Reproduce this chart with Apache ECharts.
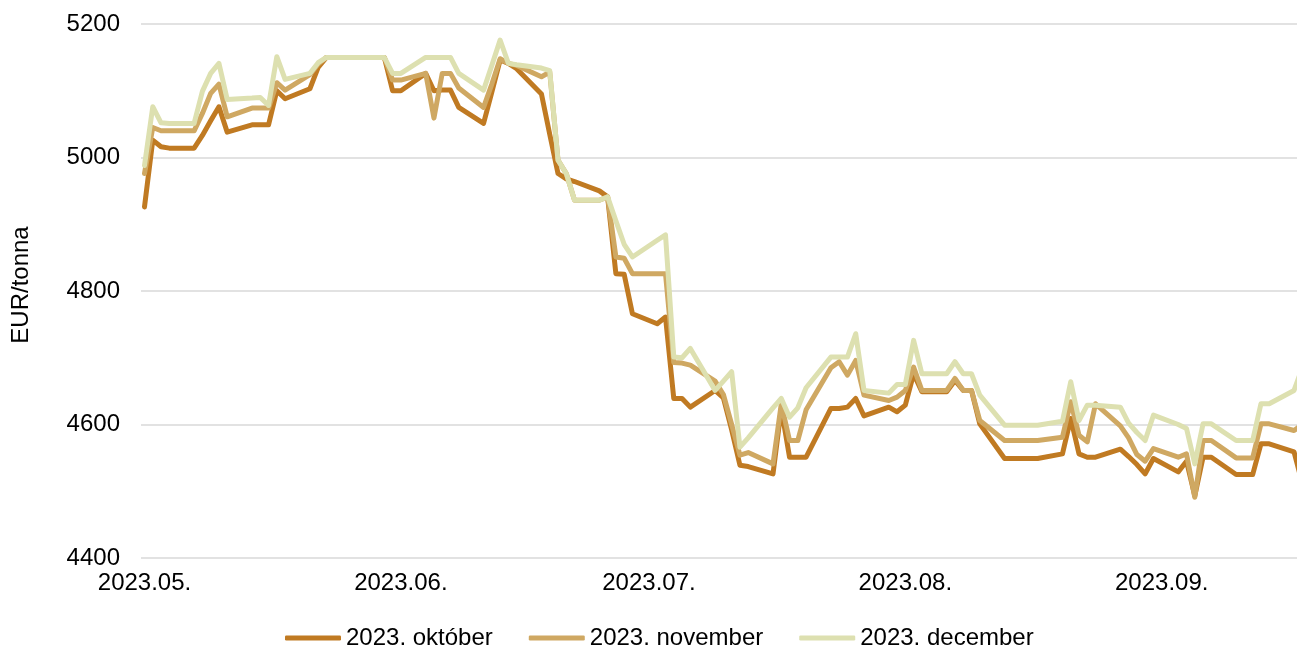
<!DOCTYPE html>
<html><head><meta charset="utf-8">
<script src="https://cdn.jsdelivr.net/npm/echarts@6/dist/echarts.min.js"></script>
<style>html,body{margin:0;padding:0;background:#fff}#c{width:1297px;height:650px}</style>
</head><body><div id="c"></div>
<script>
const seriesNames = ['2023. október', '2023. november', '2023. december'];
const dates = [
'2023-05-02','2023-05-03','2023-05-04','2023-05-05','2023-05-08','2023-05-09','2023-05-10','2023-05-11','2023-05-12',
'2023-05-15','2023-05-16','2023-05-17','2023-05-18','2023-05-19','2023-05-22','2023-05-23','2023-05-24','2023-05-25','2023-05-26',
'2023-05-29','2023-05-30','2023-05-31','2023-06-01','2023-06-02','2023-06-05','2023-06-06','2023-06-07','2023-06-08','2023-06-09',
'2023-06-12','2023-06-13','2023-06-14','2023-06-15','2023-06-16','2023-06-19','2023-06-20','2023-06-21','2023-06-22','2023-06-23',
'2023-06-26','2023-06-27','2023-06-28','2023-06-29','2023-06-30','2023-07-03','2023-07-04','2023-07-05','2023-07-06','2023-07-07',
'2023-07-10','2023-07-11','2023-07-12','2023-07-13','2023-07-14','2023-07-17','2023-07-18','2023-07-19','2023-07-20','2023-07-21',
'2023-07-24','2023-07-25','2023-07-26','2023-07-27','2023-07-28','2023-07-31','2023-08-01','2023-08-02','2023-08-03','2023-08-04',
'2023-08-07','2023-08-08','2023-08-09','2023-08-10','2023-08-11','2023-08-14','2023-08-15','2023-08-16','2023-08-17','2023-08-18',
'2023-08-21','2023-08-22','2023-08-23','2023-08-24','2023-08-25','2023-08-28','2023-08-29','2023-08-30','2023-08-31','2023-09-01',
'2023-09-04','2023-09-05','2023-09-06','2023-09-07','2023-09-08','2023-09-11','2023-09-12','2023-09-13','2023-09-14','2023-09-15',
'2023-09-18','2023-09-19'];
const oct = [
4926,5026,5016,5014,5014,5033,5055,5076,5038,
5049,5049,5049,5100,5088,5103,5135,5150,5150,5150,
5150,5150,5150,5100,5100,5126,5100,5101,5101,5075,
5051,5098,5146,5141,5133,5095,5035,4976,4968,4964,
4950,4941,4826,4825,4766,4751,4761,4639,4639,4626,
4651,4640,4592,4539,4537,4526,4624,4551,4551,4551,
4624,4624,4626,4639,4613,4626,4619,4629,4676,4649,
4649,4666,4651,4651,4601,4549,4549,4549,4549,4549,
4556,4609,4556,4551,4551,4563,4552,4540,4526,4549,
4529,4545,4493,4551,4551,4525,4525,4525,4571,4571,
4559,4512];
const nov = [
4976,5045,5040,5040,5040,5066,5096,5110,5061,
5074,5074,5074,5112,5101,5124,5140,5150,5150,5150,
5150,5150,5150,5116,5116,5126,5059,5126,5126,5104,
5075,5110,5148,5141,5138,5121,5128,4996,4976,4936,
4936,4941,4851,4849,4826,4826,4826,4693,4692,4689,
4665,4645,4600,4554,4558,4541,4631,4576,4576,4622,
4685,4694,4674,4696,4644,4636,4641,4651,4686,4651,
4651,4669,4651,4651,4606,4576,4576,4576,4576,4576,
4581,4634,4584,4574,4631,4598,4580,4555,4545,4564,
4551,4556,4491,4576,4576,4550,4550,4550,4601,4601,
4591,4600];
const dec = [
4988,5076,5052,5051,5051,5099,5126,5141,5087,
5089,5090,5078,5151,5117,5126,5142,5150,5150,5150,
5150,5150,5150,5126,5126,5150,5150,5150,5150,5126,
5101,5138,5176,5141,5139,5134,5130,4996,4976,4936,
4936,4941,4905,4870,4851,4876,4884,4701,4700,4714,
4651,4665,4679,4566,4580,4625,4639,4611,4625,4655,
4701,4701,4701,4736,4651,4647,4660,4660,4726,4676,
4676,4694,4676,4676,4644,4599,4599,4599,4599,4599,
4605,4664,4606,4629,4629,4626,4602,4588,4576,4614,
4600,4594,4541,4601,4601,4576,4576,4576,4631,4631,
4651,4685];
const tickDates = ['2023-05-02', '2023-06-02', '2023-07-02', '2023-08-02', '2023-09-02'];
const tickLabels = ['2023.05.', '2023.06.', '2023.07.', '2023.08.', '2023.09.'];
const yMin = 4400, yMax = 5200, yStep = 200;

const DAY = 86400000;
const t0 = Date.parse(dates[0]);
const toDay = s => (Date.parse(s) - t0) / DAY;
const xs = dates.map(toDay);
const tickDays = tickDates.map(toDay);
const mk = arr => arr.map((v, i) => [xs[i], v]);
const colors = ['#C07A22', '#CFA862', '#DDE0B0'];
const font = 'Liberation Sans, Arial, sans-serif';

const chart = echarts.init(document.getElementById('c'), null, {renderer: 'canvas'});
chart.setOption({
  animation: false,
  backgroundColor: '#fff',
  color: colors,
  grid: {left: 141, right: 0, top: 24, bottom: 92, containLabel: false, outerBoundsMode: 'none'},
  legend: {
    left: 280, top: 621, itemWidth: 56, itemHeight: 5, itemGap: 36, icon: 'roundRect',
    textStyle: {fontSize: 24, color: '#000', fontFamily: font},
    data: seriesNames
  },
  xAxis: {
    type: 'value', min: -0.423, max: 139.36,
    axisLine: {show: false}, axisTick: {show: false}, splitLine: {show: false},
    axisLabel: {
      customValues: tickDays, fontSize: 24, color: '#000', fontFamily: font, margin: 13,
      formatter: v => { const i = tickDays.findIndex(t => Math.abs(t - v) < 0.01); return i >= 0 ? tickLabels[i] : ''; }
    }
  },
  yAxis: {
    type: 'value', min: yMin, max: yMax, interval: yStep,
    name: 'EUR/tonna', nameLocation: 'middle', nameRotate: 90, nameGap: 108,
    nameTextStyle: {fontSize: 24, color: '#000', fontFamily: font, padding: [0, 0, 0, 12]},
    axisLine: {show: false}, axisTick: {show: false},
    axisLabel: {fontSize: 24, color: '#000', fontFamily: font, margin: 21, formatter: v => String(v)},
    splitLine: {lineStyle: {color: '#d9d9d9', width: 1.5}}
  },
  series: [oct, nov, dec].map((arr, i) => ({
    type: 'line', name: seriesNames[i], data: mk(arr),
    showSymbol: false, symbol: 'none', clip: true,
    lineStyle: {color: colors[i], width: 5, cap: 'round', join: 'round'},
    itemStyle: {color: colors[i]}
  }))
});
</script>
</body></html>
